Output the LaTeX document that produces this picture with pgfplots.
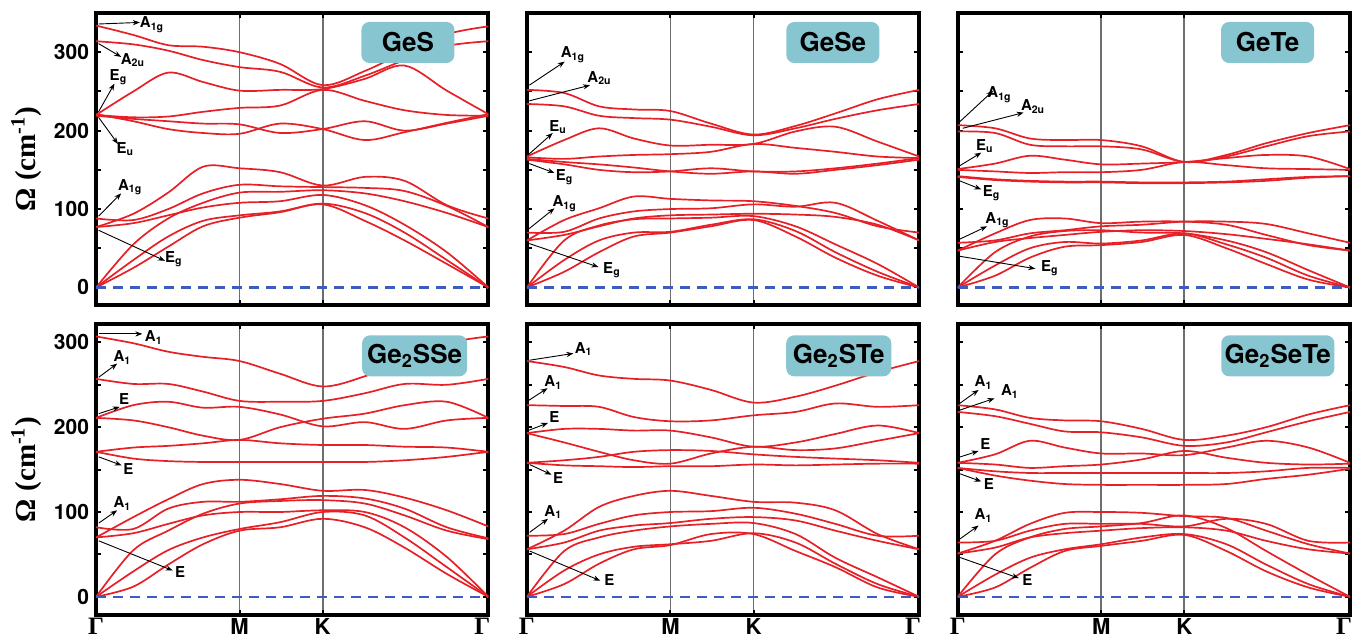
\documentclass[border=0pt]{standalone}
\usepackage{pgfplots}
\usepackage{pgfplotstable}
\pgfplotsset{compat=1.18}
\usepgfplotslibrary{groupplots}
\usetikzlibrary{arrows.meta}
\usepackage{fontspec}
\setmainfont{TeX Gyre Heros}
\newfontfamily\serif{Liberation Serif}
\definecolor{bandred}{RGB}{230,32,38}
\definecolor{boxteal}{RGB}{135,197,208}
\definecolor{zeroblue}{RGB}{63,91,191}
\definecolor{gridgray}{RGB}{110,110,110}

% rows: x and 12 branches; columns: sample points along Gamma-M-K-Gamma
\pgfplotstableread{
b c0 c1 c2 c3 c4 c5 c6 c7 c8 c9 c10
x 0 0.15 0.29 0.43 0.577 0.74 0.911 1.08 1.24 1.41 1.577
b1 334 322 309 307 300 285 258 276 300 323 333
b2 314 310 302 290 281 275 255 270 290 308 314
b3 220 250 274 262 251 252 253 266 283 251 221
b4 220 217 218 224 229 232 252 238 226 220 219
b5 219 215 212 209 208 197 202 212 200 209 219
b6 221 212 202 197 196 209 202 188 198 210 221
b7 77 94 121 154 152 147 130 141 136 105 88
b8 88 86 100 120 131 129 128 127 123 104 77
b9 0 55 88 108 121 122 124 120 110 95 77
b10 77 82 92 102 108 110 118 105 80 45 0
b11 0 35 65 85 92 97 107 95 70 35 0
b12 0 25 52 78 89 96 106 85 60 30 0
}\GeSraw
\pgfplotstableread{
b c0 c1 c2 c3 c4 c5 c6 c7 c8 c9 c10
x 0 0.15 0.29 0.43 0.577 0.74 0.911 1.08 1.24 1.41 1.577
b1 252 248 231 227 225 209 195 206 222 240 252
b2 234 231 219 216 214 205 194 203 215 226 234
b3 167 188 203 190 181 182 183 199 205 186 167
b4 166 164 167 169 170 173 183 178 173 167 165
b5 164 160 157 153 148 145 148 145 150 156 163
b6 163 157 150 147 148 152 148 148 152 158 165
b7 60 86 101 116 113 111 110 104 95 78 70
b8 70 71 88 97 100 101 106 103 108 85 60
b9 60 67 78 88 92 93 94 93 90 80 60
b10 0 60 79 87 88 89 91 78 55 30 0
b11 0 35 60 70 71 80 87 72 45 20 0
b12 0 20 45 65 70 78 86 65 38 15 0
}\GeSeraw
\pgfplotstableread{
b c0 c1 c2 c3 c4 c5 c6 c7 c8 c9 c10
x 0 0.15 0.29 0.43 0.577 0.74 0.911 1.08 1.24 1.41 1.577
b1 207 203 190 188 188 180 160 169 184 197 207
b2 199 197 182 180 180 176 160 167 180 193 199
b3 151 158 168 163 157 158 160 165 169 167 151
b4 150 148 146 147 147 150 160 156 152 151 150
b5 142 138 136 135 135 134 134 135 138 141 142
b6 141 137 135 134 134 133 133 134 136 140 142
b7 47 69 86 88 82 84 84 80 67 54 47
b8 57 60 69 73 78 80 84 84 81 69 57
b9 47 58 63 67 71 73 72 68 62 55 47
b10 0 45 65 72 73 70 69 60 45 22 0
b11 0 28 50 58 56 60 69 55 38 15 0
b12 0 15 38 52 54 58 67 50 30 10 0
}\GeTeraw
\pgfplotstableread{
b c0 c1 c2 c3 c4 c5 c6 c7 c8 c9 c10
x 0 0.15 0.29 0.43 0.577 0.74 0.911 1.08 1.24 1.41 1.577
b1 307 299 289 283 278 263 248 260 279 299 307
b2 257 251 251 242 231 230 231 240 251 250 257
b3 211 226 230 223 224 215 201 206 198 208 211
b4 211 208 200 190 185 200 210 216 226 230 211
b5 171 176 178 181 185 181 179 179 177 176 171
b6 171 163 160 159 159 159 159 159 161 165 171
b7 70 94 115 133 138 133 125 126 117 102 83
b8 82 80 104 112 112 115 119 116 104 82 69
b9 0 55 78 98 110 113 114 110 96 78 68
b10 70 75 86 96 100 100 102 100 82 47 0
b11 0 30 55 70 80 88 100 96 70 35 0
b12 0 12 38 62 78 82 92 82 58 27 0
}\GeSSeraw
\pgfplotstableread{
b c0 c1 c2 c3 c4 c5 c6 c7 c8 c9 c10
x 0 0.15 0.29 0.43 0.577 0.74 0.911 1.08 1.24 1.41 1.577
b1 278 271 261 257 255 244 229 236 249 265 278
b2 226 225 224 212 207 208 214 218 228 224 226
b3 193 198 198 196 196 188 177 182 192 202 193
b4 193 182 171 161 157 169 177 173 175 184 193
b5 158 161 165 171 173 172 168 165 163 161 158
b6 158 155 154 153 154 154 156 155 156 157 157
b7 56 78 106 119 125 119 112 111 102 74 56
b8 72 74 86 96 100 101 105 98 86 72 72
b9 56 64 78 84 87 92 94 90 78 66 56
b10 0 54 70 78 83 86 87 74 46 23 0
b11 0 31 50 59 62 66 75 64 39 15 0
b12 0 15 39 56 61 74 74 54 35 11 0
}\GeSTeraw
\pgfplotstableread{
b c0 c1 c2 c3 c4 c5 c6 c7 c8 c9 c10
x 0 0.15 0.29 0.43 0.577 0.74 0.911 1.08 1.24 1.41 1.577
b1 226 221 211 208 207 198 185 190 200 215 226
b2 218 213 204 195 194 188 178 182 194 207 218
b3 158 168 184 176 169 169 167 176 184 176 158
b4 158 156 152 154 156 162 172 164 158 156 157
b5 152 148 146 146 146 146 146 146 148 152 152
b6 152 143 137 133 132 132 132 133 139 144 151
b7 51 66 86 99 100 99 95 93 78 62 51
b8 64 66 78 86 86 86 83 92 86 66 64
b9 51 58 70 75 78 81 82 78 66 56 51
b10 0 50 70 80 83 87 96 81 54 26 0
b11 0 26 46 56 62 70 74 62 38 15 0
b12 0 11 34 54 60 66 73 54 30 11 0
}\GeSeTeraw
\pgfplotstabletranspose[colnames from=b]\GeS\GeSraw
\pgfplotstabletranspose[colnames from=b]\GeSe\GeSeraw
\pgfplotstabletranspose[colnames from=b]\GeTe\GeTeraw
\pgfplotstabletranspose[colnames from=b]\GeSSe\GeSSeraw
\pgfplotstabletranspose[colnames from=b]\GeSTe\GeSTeraw
\pgfplotstabletranspose[colnames from=b]\GeSeTe\GeSeTeraw

\pgfplotsset{
  phon/.style={
    scale only axis, width=196pt, height=145.75pt,
    xmin=0, xmax=1.577,
    xtick={0,0.577,0.911,1.577},
    xmajorgrids, major grid style={gridgray, line width=0.85pt},
    ytick={0,50,...,300},
    tick align=inside, major tick length=2.5pt,
    axis line style={line width=2pt},
    every tick/.style={black, line width=1pt},
    yticklabel style={font=\fontsize{10.5}{12}\selectfont\bfseries},
    xticklabel style={font=\fontsize{11}{12}\selectfont\bfseries, yshift=2pt, text depth=0pt},
    /pgf/number format/assume math mode=true,
  },
  band/.style={bandred, line width=0.85pt, smooth, tension=0.55, no marks},
  ylab/.style={
    ylabel={\serif\bfseries\fontsize{14.5}{16}\selectfont Ω (cm\textsuperscript{-1})},
    ylabel style={at={(rel axis cs:-0.178,0.5)}, anchor=center}},
  gxl/.style={xticklabels={{\serif\fontsize{12.5}{12}\selectfont Γ},M,K,{\serif\fontsize{12.5}{12}\selectfont Γ\hspace*{6pt}}}},
}
\tikzset{
  ar/.style={-{Stealth[length=3.5pt,width=2.6pt]}, line width=0.45pt, black},
  lb/.style={font=\fontsize{7.5}{8}\selectfont\bfseries, inner sep=0pt},
  tag/.style={fill=boxteal, rounded corners=4pt, minimum height=20.5pt, inner sep=0pt,
    font=\fontsize{13}{15}\selectfont\bfseries},
}
\newcommand{\bands}[1]{%
  \pgfplotsinvokeforeach{1,...,12}{\addplot[band] table[x=x,y=b##1]{#1};}%
  \addplot[zeroblue, line width=1.1pt, dash pattern=on 5pt off 3.5pt] coordinates {(0,0) (1.577,0)};}
\newcommand{\lab}[7]{\draw[ar] (axis cs:#1,#2) -- (axis cs:#3,#4); \node[lb] at (axis cs:#5,#6) {#7};}

\begin{document}
\begin{tikzpicture}
\begin{groupplot}[
  group style={group size=3 by 2, horizontal sep=19.25pt, vertical sep=9.5pt, group name=G},
  phon]
% ---------------- GeS
\nextgroupplot[ymin=-22, ymax=350, xticklabels={}, yticklabels={0,,100,,200,,300}, ylab]
\bands{\GeS}
\lab{0.01}{336}{0.176}{338}{0.225}{335}{A\textsubscript{1g}}
\lab{0.01}{311}{0.101}{294}{0.148}{290}{A\textsubscript{2u}}
\lab{0.01}{224}{0.074}{260}{0.09}{268}{E\textsubscript{g}}
\lab{0.01}{217}{0.088}{183}{0.118}{177}{E\textsubscript{u}}
\lab{0.01}{91}{0.101}{120}{0.137}{128}{A\textsubscript{1g}}
\lab{0.01}{73}{0.277}{34}{0.313}{36}{E\textsubscript{g}}
\node[tag, minimum width=46.5pt] at (rel axis cs:0.795,0.899) {GeS};
% ---------------- GeSe
\nextgroupplot[ymin=-22, ymax=350, xticklabels={}, yticklabels={}]
\bands{\GeSe}
\lab{0.01}{258}{0.152}{288}{0.185}{297}{A\textsubscript{1g}}
\lab{0.01}{238}{0.254}{258}{0.292}{267}{A\textsubscript{2u}}
\lab{0.005}{169}{0.104}{197}{0.125}{205}{E\textsubscript{u}}
\lab{0.01}{158}{0.111}{146}{0.152}{141}{E\textsubscript{g}}
\lab{0.005}{74}{0.111}{101}{0.152}{107}{A\textsubscript{1g}}
\lab{0.01}{56}{0.288}{26}{0.342}{22}{E\textsubscript{g}}
\node[tag, minimum width=46.5pt] at (rel axis cs:0.78,0.899) {GeSe};
% ---------------- GeTe
\nextgroupplot[ymin=-22, ymax=350, xticklabels={}, yticklabels={}]
\bands{\GeTe}
\lab{0.007}{211}{0.143}{251}{0.168}{246}{A\textsubscript{1g}}
\lab{0.02}{203}{0.265}{223}{0.303}{231}{A\textsubscript{2u}}
\lab{0.007}{155}{0.095}{172}{0.109}{180}{E\textsubscript{u}}
\lab{0}{137}{0.095}{125}{0.136}{120}{E\textsubscript{g}}
\lab{0.004}{61}{0.118}{78}{0.16}{86}{A\textsubscript{1g}}
\lab{0.004}{40}{0.312}{24}{0.37}{24}{E\textsubscript{g}}
\node[tag, minimum width=46.5pt] at (rel axis cs:0.79,0.899) {GeTe};
% ---------------- Ge2SSe
\nextgroupplot[ymin=-22, ymax=322, gxl, yticklabels={0,,100,,200,,300}, ylab]
\bands{\GeSSe}
\lab{0.011}{310}{0.186}{310}{0.232}{306}{A\textsubscript{1}}
\lab{0.011}{259}{0.085}{275}{0.106}{282}{A\textsubscript{1}}
\lab{0.011}{216}{0.095}{224}{0.113}{233}{E}
\lab{0.011}{165}{0.103}{155}{0.13}{151}{E}
\lab{0.011}{87}{0.085}{102}{0.106}{110}{A\textsubscript{1}}
\lab{0.011}{66}{0.308}{31}{0.338}{29}{E}
\node[tag, minimum width=52.5pt] at (rel axis cs:0.812,0.89) {Ge\textsubscript{2}SSe};
% ---------------- Ge2STe
\nextgroupplot[ymin=-22, ymax=322, gxl, yticklabels={}]
\bands{\GeSTe}
\lab{0.011}{279}{0.187}{287}{0.228}{292}{A\textsubscript{1}}
\lab{0.004}{231}{0.083}{246}{0.106}{253}{A\textsubscript{1}}
\lab{0.004}{196}{0.085}{205}{0.11}{212}{E}
\lab{0.011}{156}{0.099}{144}{0.126}{140}{E}
\lab{0.011}{76}{0.085}{92}{0.106}{100}{A\textsubscript{1}}
\lab{0.011}{54}{0.295}{19}{0.332}{20}{E}
\node[tag, minimum width=52.5pt] at (rel axis cs:0.795,0.89) {Ge\textsubscript{2}STe};
% ---------------- Ge2SeTe
\nextgroupplot[ymin=-22, ymax=322, gxl, yticklabels={}]
\bands{\GeSeTe}
\lab{0.003}{227}{0.084}{244}{0.104}{253}{A\textsubscript{1}}
\lab{0.007}{220}{0.148}{234}{0.21}{242}{A\textsubscript{1}}
\lab{0}{164}{0.084}{172}{0.111}{180}{E}
\lab{0}{146}{0.095}{136}{0.125}{133}{E}
\lab{0.003}{67}{0.084}{84}{0.104}{96}{A\textsubscript{1}}
\lab{0.003}{47}{0.246}{22}{0.28}{20}{E}
\node[tag, minimum width=56.5pt] at (rel axis cs:0.816,0.89) {Ge\textsubscript{2}SeTe};
\end{groupplot}
\pgfresetboundingbox
\path[use as bounding box] ([shift={(-48pt,-12pt)}]G c1r2.south west) rectangle ([shift={(2pt,6.5pt)}]G c3r1.north east);
\end{tikzpicture}
\end{document}
